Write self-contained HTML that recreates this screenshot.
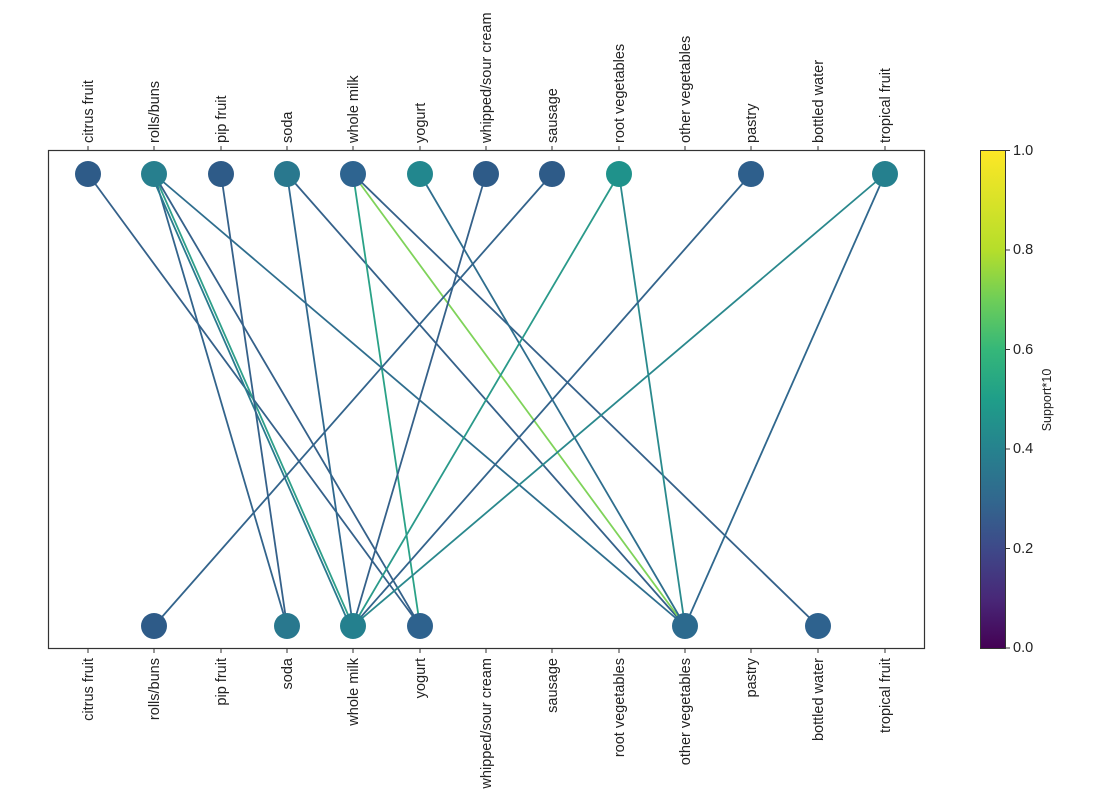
<!DOCTYPE html>
<html><head><meta charset="utf-8"><style>body{margin:0;background:#fff}svg{display:block}text{font-family:"Liberation Sans",sans-serif;font-size:14.5px;fill:#222}</style></head>
<body>
<svg width="1093" height="805" viewBox="0 0 1093 805">
<defs><linearGradient id="vir" x1="0" y1="1" x2="0" y2="0">
<stop offset="0" stop-color="#440154"/><stop offset="0.1" stop-color="#482878"/><stop offset="0.2" stop-color="#3e4989"/><stop offset="0.3" stop-color="#31688e"/><stop offset="0.4" stop-color="#26828e"/><stop offset="0.5" stop-color="#1f9e89"/><stop offset="0.6" stop-color="#35b779"/><stop offset="0.7" stop-color="#6ece58"/><stop offset="0.8" stop-color="#b5de2b"/><stop offset="1" stop-color="#fde725"/></linearGradient></defs>
<g stroke-width="1.8" fill="none">
<line x1="88" y1="174" x2="420" y2="626" stroke="#35618a"/>
<line x1="154" y1="174" x2="287" y2="626" stroke="#33648c"/>
<line x1="154" y1="174" x2="353" y2="626" stroke="#2fa08a"/>
<line x1="154" y1="174" x2="353" y2="626" stroke="#2a7a8e" transform="translate(-3,0)"/>
<line x1="154" y1="174" x2="420" y2="626" stroke="#35618a"/>
<line x1="154" y1="174" x2="685" y2="626" stroke="#2f6e8e"/>
<line x1="221" y1="174" x2="287" y2="626" stroke="#35618a"/>
<line x1="287" y1="174" x2="353" y2="626" stroke="#30688e"/>
<line x1="287" y1="174" x2="685" y2="626" stroke="#35618a"/>
<line x1="353" y1="174" x2="420" y2="626" stroke="#2aa287"/>
<line x1="353" y1="174" x2="685" y2="626" stroke="#7fd35a"/>
<line x1="353" y1="174" x2="818" y2="626" stroke="#35618a"/>
<line x1="420" y1="174" x2="685" y2="626" stroke="#2f6e8e"/>
<line x1="486" y1="174" x2="353" y2="626" stroke="#35618a"/>
<line x1="552" y1="174" x2="154" y2="626" stroke="#33648c"/>
<line x1="619" y1="174" x2="353" y2="626" stroke="#2a9a8a"/>
<line x1="619" y1="174" x2="685" y2="626" stroke="#2a8a8d"/>
<line x1="751" y1="174" x2="353" y2="626" stroke="#33648c"/>
<line x1="885" y1="174" x2="353" y2="626" stroke="#2a888d"/>
<line x1="885" y1="174" x2="685" y2="626" stroke="#30688e"/>
</g>
<g>
<circle cx="88" cy="174" r="13" fill="#2e5b88"/>
<circle cx="154" cy="174" r="13" fill="#277f8e"/>
<circle cx="221" cy="174" r="13" fill="#2e5b88"/>
<circle cx="287" cy="174" r="13" fill="#29788e"/>
<circle cx="353" cy="174" r="13" fill="#2e6490"/>
<circle cx="420" cy="174" r="13" fill="#22878e"/>
<circle cx="486" cy="174" r="13" fill="#2e5b88"/>
<circle cx="552" cy="174" r="13" fill="#2e5b88"/>
<circle cx="619" cy="174" r="13" fill="#1f928b"/>
<circle cx="751" cy="174" r="13" fill="#2e5f8c"/>
<circle cx="885" cy="174" r="13" fill="#25808e"/>
<circle cx="154" cy="626" r="13" fill="#2e5b88"/>
<circle cx="287" cy="626" r="13" fill="#29788e"/>
<circle cx="353" cy="626" r="13" fill="#24808e"/>
<circle cx="420" cy="626" r="13" fill="#2e628e"/>
<circle cx="685" cy="626" r="13" fill="#2c6a8e"/>
<circle cx="818" cy="626" r="13" fill="#2e628e"/>
</g>
<rect x="48.5" y="150.5" width="876" height="498" fill="none" stroke="#333" stroke-width="1.2"/>
<g stroke="#333" stroke-width="1">
<path d="M88 150v-4M154 150v-4M221 150v-4M287 150v-4M353 150v-4M420 150v-4M486 150v-4M552 150v-4M619 150v-4M685 150v-4M751 150v-4M818 150v-4M885 150v-4"/>
<path d="M88 649v4M154 649v4M221 649v4M287 649v4M353 649v4M420 649v4M486 649v4M552 649v4M619 649v4M685 649v4M751 649v4M818 649v4M885 649v4"/>
</g>
<g text-anchor="start">
<text transform="translate(93,143) rotate(-90)">citrus fruit</text>
<text transform="translate(159,143) rotate(-90)">rolls/buns</text>
<text transform="translate(226,143) rotate(-90)">pip fruit</text>
<text transform="translate(292,143) rotate(-90)">soda</text>
<text transform="translate(358,143) rotate(-90)">whole milk</text>
<text transform="translate(425,143) rotate(-90)">yogurt</text>
<text transform="translate(491,143) rotate(-90)">whipped/sour cream</text>
<text transform="translate(557,143) rotate(-90)">sausage</text>
<text transform="translate(624,143) rotate(-90)">root vegetables</text>
<text transform="translate(690,143) rotate(-90)">other vegetables</text>
<text transform="translate(756,143) rotate(-90)">pastry</text>
<text transform="translate(823,143) rotate(-90)">bottled water</text>
<text transform="translate(890,143) rotate(-90)">tropical fruit</text>
</g>
<g text-anchor="end">
<text transform="translate(93,658) rotate(-90)">citrus fruit</text>
<text transform="translate(159,658) rotate(-90)">rolls/buns</text>
<text transform="translate(226,658) rotate(-90)">pip fruit</text>
<text transform="translate(292,658) rotate(-90)">soda</text>
<text transform="translate(358,658) rotate(-90)">whole milk</text>
<text transform="translate(425,658) rotate(-90)">yogurt</text>
<text transform="translate(491,658) rotate(-90)">whipped/sour cream</text>
<text transform="translate(557,658) rotate(-90)">sausage</text>
<text transform="translate(624,658) rotate(-90)">root vegetables</text>
<text transform="translate(690,658) rotate(-90)">other vegetables</text>
<text transform="translate(756,658) rotate(-90)">pastry</text>
<text transform="translate(823,658) rotate(-90)">bottled water</text>
<text transform="translate(890,658) rotate(-90)">tropical fruit</text>
</g>
<rect x="980.5" y="150.5" width="25" height="498" fill="url(#vir)" stroke="#333" stroke-width="1"/>
<g stroke="#333"><path d="M1006 150.5h4M1006 250h4M1006 349.5h4M1006 449h4M1006 548.5h4M1006 648h4"/></g>
<g style="font-size:13px">
<text x="1013" y="155">1.0</text><text x="1013" y="254">0.8</text><text x="1013" y="354">0.6</text><text x="1013" y="453">0.4</text><text x="1013" y="553">0.2</text><text x="1013" y="652">0.0</text>
</g>
<text transform="translate(1051,400) rotate(-90)" text-anchor="middle" style="font-size:12.5px">Support*10</text>
</svg>
</body></html>
